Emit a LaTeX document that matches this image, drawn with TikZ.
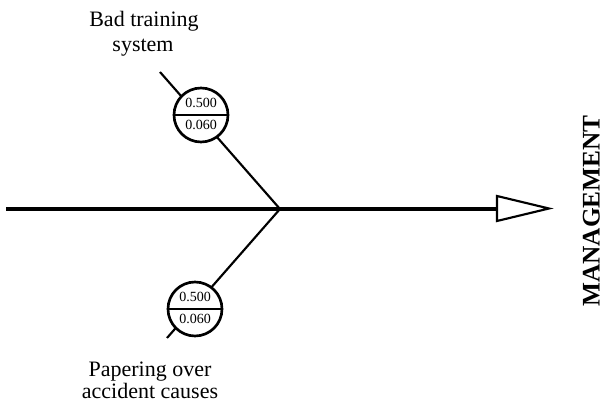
\documentclass[tikz,border=0pt]{standalone}
\usepackage{fontspec}
\setmainfont{Liberation Serif}
\begin{document}
\begin{tikzpicture}[x=0.75pt,y=-0.75pt,
  branch/.style={line width=1.6pt},
  valcirc/.style={circle,draw,line width=2pt,fill=white,minimum size=40.5pt,inner sep=0pt},
  lbl/.style={font=\fontsize{16.5}{18}\selectfont,align=center,inner sep=0pt},
  num/.style={font=\fontsize{10.5}{11}\selectfont,inner sep=0pt}]
\useasboundingbox (0,0) rectangle (604,409);
\coordinate (start) at (6,209);
\coordinate (junc) at (280,209);
\coordinate (shaft) at (497,209);
\coordinate (ht) at (497,196);
\coordinate (hb) at (497,221);
\coordinate (tip) at (549,208.5);
\coordinate (ubr) at (160,72);
\coordinate (lbr) at (167,338);
% main spine
\draw[line width=3.6pt] (start) -- (shaft);
\draw[line width=1.6pt,fill=white,line join=miter] (ht) -- (tip) -- (hb) -- cycle;
% branches
\draw[branch] (ubr) -- (junc);
\draw[branch] (lbr) -- (junc);
% circles
\node[valcirc] (c1) at (201,115) {};
\draw[line width=2pt] (c1.west) -- (c1.east);
\node[num,anchor=base] (c1a) at (201,108) {0.500};
\node[num,anchor=base] (c1b) at (201,130) {0.060};
\node[valcirc] (c2) at (195,309) {};
\draw[line width=2pt] (c2.west) -- (c2.east);
\node[num,anchor=base] (c2a) at (195,302) {0.500};
\node[num,anchor=base] (c2b) at (195,324) {0.060};
% labels
\node[lbl,anchor=base] (l1a) at (144,27) {Bad training};
\node[lbl,anchor=base] (l1b) at (143,52) {system};
\node[lbl,anchor=base] (l2a) at (150,377) {Papering over};
\node[lbl,anchor=base] (l2b) at (150,399) {accident causes};
\node[font=\bfseries\fontsize{19}{21}\selectfont,rotate=90,inner sep=0pt,
  text height=13pt,text depth=0pt,anchor=base] (eff) at (599.5,211) {MANAGEMENT};
\end{tikzpicture}
\end{document}
